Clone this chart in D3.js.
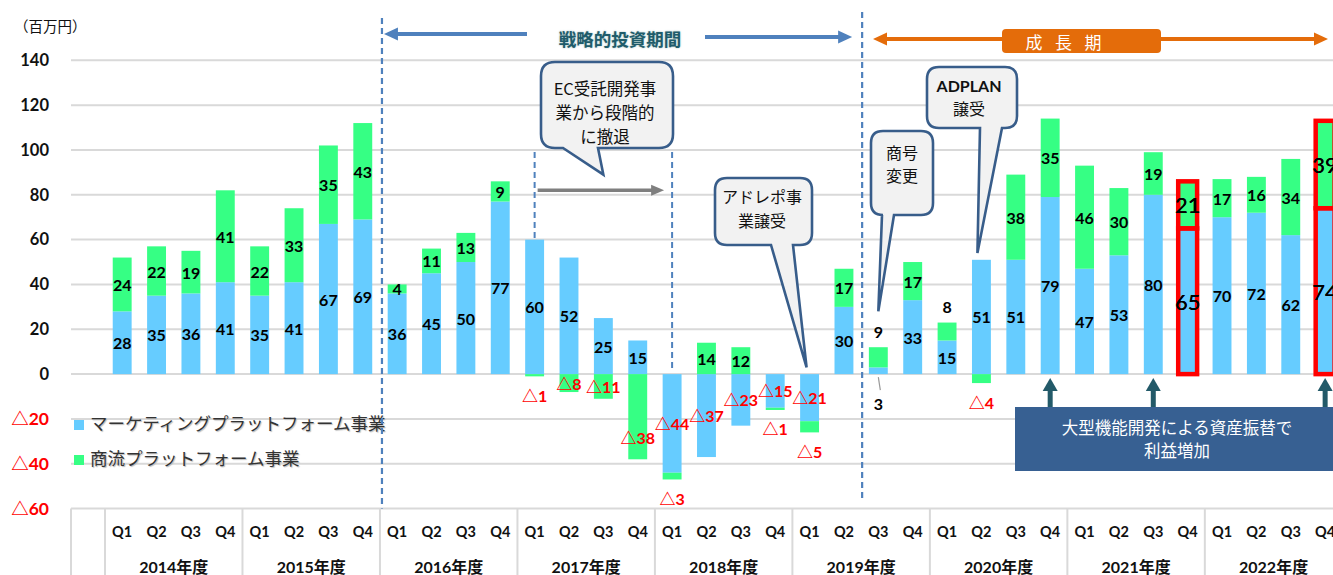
<!DOCTYPE html>
<html><head><meta charset="utf-8">
<script src="https://cdn.jsdelivr.net/npm/d3@7"></script>
<style>body{margin:0;background:#fff;} svg{display:block;background:#fff;}</style>
</head><body><svg id="c" width="1333" height="575"></svg>
<script>
// ---------- data ----------
const years = ["2014年度","2015年度","2016年度","2017年度","2018年度","2019年度","2020年度","2021年度","2022年度"];
const quarters = ["Q1","Q2","Q3","Q4"];
const marketing = [28,35,36,41, 35,41,67,69, 36,45,50,77, 60,52,25,15, -44,-37,-23,-15, -21,30,3,33, 15,51,51,79, 47,53,80,65, 70,72,62,74];
const commerce  = [24,22,19,41, 22,33,35,43, 4,11,13,9, -1,-8,-11,-38, -3,14,12,-1, -5,17,9,17, 8,-4,38,35, 46,30,19,21, 17,16,34,39];
const yTicks = [-60,-40,-20,0,20,40,60,80,100,120,140];
const seriesNames = ["マーケティングプラットフォーム事業","商流プラットフォーム事業"];
const highlighted = ["2021Q4","2022Q4"];
const labelPlacement = {
  "com:2017Q1":"below","com:2017Q4":"end","com:2018Q1":"below","com:2018Q4":"below",
  "com:2019Q1":"below","com:2020Q2":"below","mkt:2019Q3":"below",
  "com:2019Q3":"above","com:2020Q1":"above"
};

// ---------- setup ----------
const W = 1333, H = 575;
const svg = d3.select("#c");
const NUM = "Lato, 'Noto Sans CJK JP', sans-serif";
const JP = "'Noto Sans CJK JP', sans-serif";
const BLUE = "#66CCFF", GREEN = "#36FF84";

const keys = [];
years.forEach((yr,i)=>quarters.forEach(q=>keys.push((2014+i)+q)));
const rows = keys.map((k,i)=>({key:k, mkt:marketing[i], com:commerce[i]}));

const step = 34.37;
const x = d3.scaleBand().domain(keys).range([105,105+step*keys.length]).paddingInner(0.45).paddingOuter(0.225);
const xYear = d3.scaleBand().domain(years).range([105,105+step*keys.length]);
const y = d3.scaleLinear().domain([-60,140]).range([508.6,60.3]);
const cx = k => x(k)+x.bandwidth()/2;

// grid
svg.append("g").selectAll("line").data(yTicks).join("line")
  .attr("x1",71).attr("x2",W).attr("y1",d=>y(d)).attr("y2",d=>y(d))
  .attr("stroke","#d9d9d9").attr("stroke-width",2);

// y axis
const ya = svg.append("g").attr("transform","translate(71,0)")
  .call(d3.axisLeft(y).tickValues(yTicks).tickSize(0).tickPadding(22)
    .tickFormat(d=>d<0?"△"+(-d):d));
ya.select(".domain").remove();
ya.selectAll("text").attr("font-family",NUM).attr("font-weight","bold").attr("font-size",d=>d<0?17.5:16.5)
  .attr("fill",d=>d<0?"#FF0000":"#111");
svg.append("text").attr("x",14).attr("y",28).attr("dominant-baseline","middle")
  .attr("font-family",JP).attr("font-size",14.5).attr("fill","#111").text("（百万円）");

// table at bottom
const vx = [71,105].concat(years.map(yr=>xYear(yr)+xYear.bandwidth()));
svg.append("g").selectAll("line").data(vx).join("line")
  .attr("x1",d=>d).attr("x2",d=>d).attr("y1",y(-60)).attr("y2",H)
  .attr("stroke","#d9d9d9").attr("stroke-width",2);
const qa = svg.append("g").attr("transform",`translate(0,${y(-60)})`)
  .call(d3.axisBottom(x).tickSize(0).tickFormat(k=>k.slice(-2)));
qa.select(".domain").remove();
qa.selectAll("text").attr("y",23).attr("dy","0.35em").attr("font-family",NUM)
  .attr("font-weight","bold").attr("font-size",14.5).attr("fill","#111");
const ya2 = svg.append("g").attr("transform",`translate(0,${y(-60)})`)
  .call(d3.axisBottom(xYear).tickSize(0));
ya2.select(".domain").remove();
ya2.selectAll("text").attr("y",59).attr("dy","0.35em").attr("font-family",NUM)
  .attr("font-weight","bold").attr("font-size",16).attr("fill","#111");

// legend
const legColors = [BLUE,GREEN];
seriesNames.forEach((n,i)=>{
  const ly = 425 + i*35;
  svg.append("rect").attr("x",74).attr("y",ly-5).attr("width",10).attr("height",10).attr("fill",legColors[i]);
  svg.append("text").attr("x",90).attr("y",ly).attr("dominant-baseline","middle")
    .attr("font-family",JP).attr("font-size",17.5).attr("fill","#333")
    .style("text-shadow","1px 1px 1px #bbb").text(n);
});

// stacked bars
const series = d3.stack().keys(["mkt","com"]).offset(d3.stackOffsetDiverging)(rows);
const colorOf = {mkt:BLUE, com:GREEN};
const barG = svg.append("g");
series.forEach(s=>{
  barG.selectAll(null).data(s).join("rect")
    .attr("x",d=>x(d.data.key)).attr("width",x.bandwidth())
    .attr("y",d=>y(Math.max(d[0],d[1]))).attr("height",d=>Math.abs(y(d[0])-y(d[1])))
    .attr("fill",colorOf[s.key]);
});
// highlight outlines
series.forEach(s=>{
  barG.selectAll(null).data(s.filter(d=>highlighted.includes(d.data.key))).join("rect")
    .attr("x",d=>x(d.data.key)).attr("width",x.bandwidth())
    .attr("y",d=>y(Math.max(d[0],d[1]))).attr("height",d=>Math.abs(y(d[0])-y(d[1])))
    .attr("fill","none").attr("stroke","#FF0000").attr("stroke-width",4.5);
});

// labels
const barMin = {}, barMax = {};
rows.forEach(r=>{
  const pos = Math.max(0,r.mkt)+Math.max(0,r.com), neg = Math.min(0,r.mkt)+Math.min(0,r.com);
  barMin[r.key]=neg; barMax[r.key]=pos;
});
const labG = svg.append("g");
series.forEach(s=>{
  s.forEach(d=>{
    const k = d.data.key, v = d.data[s.key];
    const pl = labelPlacement[s.key+":"+k];
    const lo = Math.min(d[0],d[1]), hi = Math.max(d[0],d[1]);
    let ly = y((lo+hi)/2);
    if (pl==="below") ly = v<0 ? y(barMin[k])+19 : y(0)+29;
    if (pl==="above") ly = y(barMax[k])-16;
    if (pl==="end") ly = y(lo)-22;
    const hl = highlighted.includes(k);
    labG.append("text").attr("x",cx(k)).attr("y",ly).attr("text-anchor","middle")
      .attr("dominant-baseline","central").attr("font-family",NUM)
      .attr("font-weight",hl?"normal":"bold").attr("font-size",hl?22:16)
      .attr("fill",v<0?"#FF0000":"#000")
      .style("text-shadow",hl?"0 0 0.6px #000":null)
      .text(v<0?"△"+(-v):v);
    if (pl==="below" && v>0) {
      labG.append("line").attr("x1",cx(k)).attr("y1",y(0)+3).attr("x2",cx(k)+2).attr("y2",y(0)+16)
        .attr("stroke","#999").attr("stroke-width",1.2);
    }
  });
});

// ---------- annotations ----------
const DASH = "#4F81BD";
function tri(g, tx, ty, dir, len, wid, color){ // dir: 'l','r','u'
  let p;
  if(dir==='l') p=[[tx,ty],[tx+len,ty-wid/2],[tx+len,ty+wid/2]];
  if(dir==='r') p=[[tx,ty],[tx-len,ty-wid/2],[tx-len,ty+wid/2]];
  if(dir==='u') p=[[tx,ty],[tx-wid/2,ty+len],[tx+wid/2,ty+len]];
  g.append("path").attr("d","M"+p.map(q=>q.join(",")).join("L")+"Z").attr("fill",color);
}
const ann = svg.append("g");
// period dashed lines
const xStrat = xYear("2016年度")+2;
const xGrowth = (x("2019Q2")+x.bandwidth()+x("2019Q3"))/2+1;
ann.append("line").attr("x1",xStrat).attr("x2",xStrat).attr("y1",18).attr("y2",y(-60))
  .attr("stroke",DASH).attr("stroke-width",2.2).attr("stroke-dasharray","6,4");
ann.append("line").attr("x1",xGrowth).attr("x2",xGrowth).attr("y1",12).attr("y2",499)
  .attr("stroke",DASH).attr("stroke-width",2.2).attr("stroke-dasharray","6,4");
// strategy arrows
ann.append("line").attr("x1",xStrat+14).attr("x2",527).attr("y1",34).attr("y2",34).attr("stroke",DASH).attr("stroke-width",4);
tri(ann,xStrat+2,34,'l',14,13,DASH);
ann.append("line").attr("x1",705).attr("x2",xGrowth-22).attr("y1",37).attr("y2",37).attr("stroke",DASH).attr("stroke-width",4);
tri(ann,xGrowth-10,37,'r',14,13,DASH);
ann.append("text").attr("x",620).attr("y",38).attr("text-anchor","middle").attr("dominant-baseline","central")
  .attr("font-family",JP).attr("font-weight","bold").attr("font-size",17.5).attr("fill","#1F5C6B")
  .style("text-shadow","0 0 2px #9bb").text("戦略的投資期間");
// growth arrow
const OR = "#E46C0A";
ann.append("line").attr("x1",885).attr("x2",1316).attr("y1",39).attr("y2",39).attr("stroke",OR).attr("stroke-width",4);
tri(ann,873,39,'l',14,13,OR); tri(ann,1328,39,'r',14,13,OR);
ann.append("rect").attr("x",1002).attr("y",29).attr("width",159).attr("height",24).attr("rx",4).attr("fill",OR);
["成","長","期"].forEach((c,i)=>ann.append("text").attr("x",1034+i*29.5).attr("y",41)
  .attr("text-anchor","middle").attr("dominant-baseline","central").attr("font-family",JP)
  .attr("font-size",17).attr("fill","#fff").text(c));

// EC withdrawal range
const GR="#7F7F7F";
[["2017Q1",y(60)-1],["2018Q1",y(0)-2]].forEach(([k,yb])=>{
  ann.append("line").attr("x1",cx(k)).attr("x2",cx(k)).attr("y1",152).attr("y2",yb)
    .attr("stroke",DASH).attr("stroke-width",2).attr("stroke-dasharray","6,4");
});
ann.append("line").attr("x1",cx("2017Q1")+3).attr("x2",cx("2018Q1")-20).attr("y1",y(82)).attr("y2",y(82))
  .attr("stroke",GR).attr("stroke-width",3.5);
tri(ann,cx("2018Q1")-8,y(82),'r',13,11,GR);

// callouts
function callout(b){
  const {x0,y0,x1,y1,r,bx0,bx1,tx,ty}=b;
  const d=`M${x0+r},${y0}H${x1-r}Q${x1},${y0} ${x1},${y0+r}V${y1-r}Q${x1},${y1} ${x1-r},${y1}`+
    `H${bx1}L${tx},${ty}L${bx0},${y1}H${x0+r}Q${x0},${y1} ${x0},${y1-r}V${y0+r}Q${x0},${y0} ${x0+r},${y0}Z`;
  ann.append("path").attr("d",d).attr("fill","#F2F2F2").attr("stroke","#385D8A").attr("stroke-width",2.6);
  b.lines.forEach((t,i)=>ann.append("text").attr("x",b.cxText).attr("y",b.ly[i]).attr("text-anchor","middle")
    .attr("dominant-baseline","central").attr("font-family",t.bold?NUM:JP).attr("font-weight",t.bold?"bold":"normal")
    .attr("font-size",b.fs).attr("fill","#111").text(t.s));
}
callout({x0:541,y0:62,x1:673,y1:148,r:14,bx0:563,bx1:598,tx:cx("2017Q3"),ty:y(89),
  cxText:605,ly:[88,112,136],fs:16.5,lines:[{s:"EC受託開発事"},{s:"業から段階的"},{s:"に撤退"}]});
callout({x0:715,y0:178,x1:812,y1:245,r:12,bx0:771,bx1:793,tx:cx("2019Q1")-3,ty:y(3),
  cxText:762,ly:[196,220],fs:16,lines:[{s:"アドレポ事"},{s:"業譲受"}]});
callout({x0:871,y0:131,x1:933,y1:215,r:12,bx0:882,bx1:894,tx:cx("2019Q3"),ty:y(28),
  cxText:902,ly:[152,175],fs:16,lines:[{s:"商号"},{s:"変更"}]});
callout({x0:927,y0:67,x1:1017,y1:128,r:12,bx0:980,bx1:1002,tx:cx("2020Q2")-4,ty:y(54),
  cxText:969,ly:[85,108],fs:16,lines:[{s:"ADPLAN",bold:true},{s:"譲受"}]});

// asset transfer box
const NAVY="#376092", TEAL="#235A69";
["2020Q4","2021Q3","2022Q4"].forEach(k=>{
  ann.append("rect").attr("x",cx(k)-2.5).attr("y",390).attr("width",5).attr("height",18).attr("fill",TEAL);
  tri(ann,cx(k),y(0)+4,'u',13,15,TEAL);
});
ann.append("rect").attr("x",1015).attr("y",407).attr("width",330).attr("height",64).attr("fill",NAVY);
["大型機能開発による資産振替で","利益増加"].forEach((t,i)=>ann.append("text").attr("x",1177).attr("y",427+i*23)
  .attr("text-anchor","middle").attr("dominant-baseline","central").attr("font-family",JP)
  .attr("font-size",16.5).attr("fill","#fff").text(t));
</script></body></html>
